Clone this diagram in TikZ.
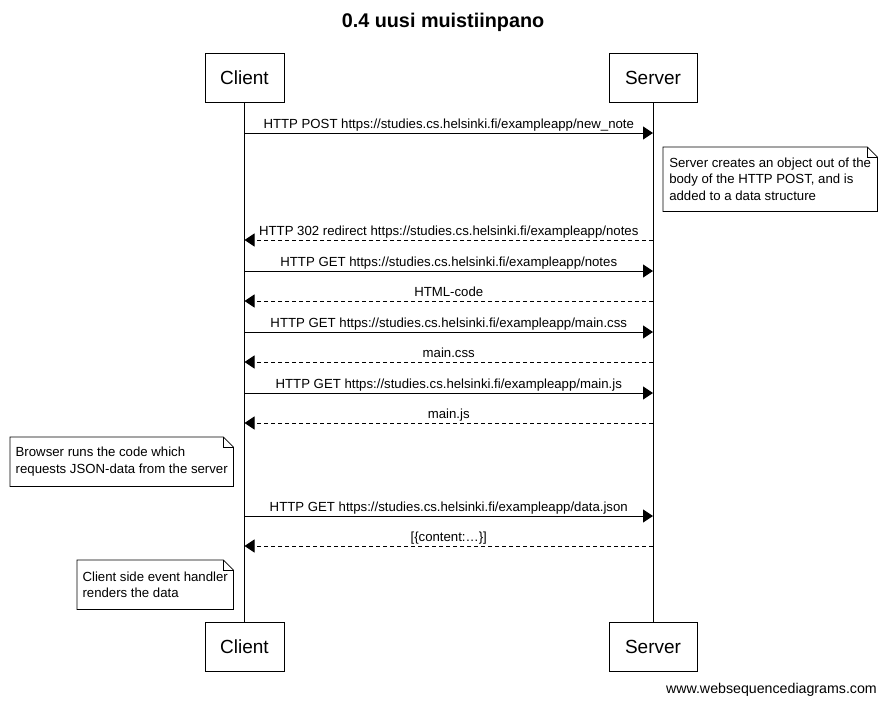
\documentclass[tikz,border=0pt]{standalone}
\usepackage{fontspec}
\setmainfont{Liberation Sans}
\usetikzlibrary{arrows.meta}

\tikzset{
  actor/.style={draw, fill=white, minimum width=79pt, minimum height=49pt, inner sep=0pt,
    font=\fontsize{19}{22}\selectfont},
  msg/.style={-{Triangle[length=10pt,width=13pt]}, line width=0.9pt},
  reply/.style={msg, dash pattern=on 4pt off 3pt},
  msglabel/.style={above, inner sep=1.5pt, text depth=2.6pt, font=\fontsize{13.2}{15}\selectfont},
  notebox/.style={anchor=north west, align=left, inner xsep=5pt, inner ysep=0pt,
    font=\fontsize{13.2}{16.3}\selectfont},
}

% outline of a note with a folded corner
\newcommand{\dogear}[1]{%
  \draw[line width=0.8pt] (#1.south west) -- (#1.north west) -- ([xshift=-10pt]#1.north east)
    -- ([yshift=-10pt]#1.north east) -- (#1.south east) -- cycle;
  \draw[line width=0.8pt] ([xshift=-10pt]#1.north east) |- ([yshift=-10pt]#1.north east);
}

\begin{document}
\begin{tikzpicture}[x=1pt, y=-1pt]
  \useasboundingbox (0,0) rectangle (886,705);

  \node[font=\fontsize{19.8}{22}\selectfont\bfseries] (title) at (443,22) {0.4 uusi muistiinpano};

  % participants
  \node[actor] (clienttop) at (244.5,77.5) {Client};
  \node[actor, minimum width=88pt] (servertop) at (653,77.5) {Server};
  \node[actor] (clientbot) at (244.5,646.5) {Client};
  \node[actor, minimum width=88pt] (serverbot) at (653,646.5) {Server};
  \draw[line width=0.8pt] (clienttop) -- (clientbot);
  \draw[line width=0.8pt] (servertop) -- (serverbot);

  % points on the lifelines
  \foreach \n/\y in {1/133, 2/240, 3/271, 4/301, 5/332, 6/362, 7/393, 8/423, 9/516, 10/546}{
    \coordinate (c\n) at (244.5,\y);
    \coordinate (s\n) at (653,\y);
  }

  \draw[msg] (c1) -- (s1)
    node[msglabel, midway]{HTTP POST https://studies.cs.helsinki.fi/exampleapp/new\_note};

  \node[notebox, minimum width=214pt, minimum height=64pt] (servernote) at (663,147)
    {Server creates an object out of the\\body of the HTTP POST, and is\\added to a data structure};
  \dogear{servernote}

  \draw[reply] (s2) -- (c2)
    node[msglabel, midway]{HTTP 302 redirect https://studies.cs.helsinki.fi/exampleapp/notes};
  \draw[msg] (c3) -- (s3)
    node[msglabel, midway]{HTTP GET https://studies.cs.helsinki.fi/exampleapp/notes};
  \draw[reply] (s4) -- (c4)
    node[msglabel, midway]{HTML-code};
  \draw[msg] (c5) -- (s5)
    node[msglabel, midway]{HTTP GET https://studies.cs.helsinki.fi/exampleapp/main.css};
  \draw[reply] (s6) -- (c6)
    node[msglabel, midway]{main.css};
  \draw[msg] (c7) -- (s7)
    node[msglabel, midway]{HTTP GET https://studies.cs.helsinki.fi/exampleapp/main.js};
  \draw[reply] (s8) -- (c8)
    node[msglabel, midway]{main.js};

  \node[notebox, minimum width=223pt, minimum height=49pt] (browsernote) at (10,437)
    {Browser runs the code which\\requests JSON-data from the server};
  \dogear{browsernote}

  \draw[msg] (c9) -- (s9)
    node[msglabel, midway]{HTTP GET https://studies.cs.helsinki.fi/exampleapp/data.json};
  \draw[reply] (s10) -- (c10)
    node[msglabel, midway]{[\{content:\dots\}]};

  \node[notebox, minimum width=156pt, minimum height=49pt] (handlernote) at (77,560)
    {Client side event handler\\renders the data};
  \dogear{handlernote}

  \node[anchor=east, inner sep=0pt, font=\fontsize{14.2}{16}\selectfont] (footer) at (877,690)
    {www.websequencediagrams.com};
\end{tikzpicture}
\end{document}
